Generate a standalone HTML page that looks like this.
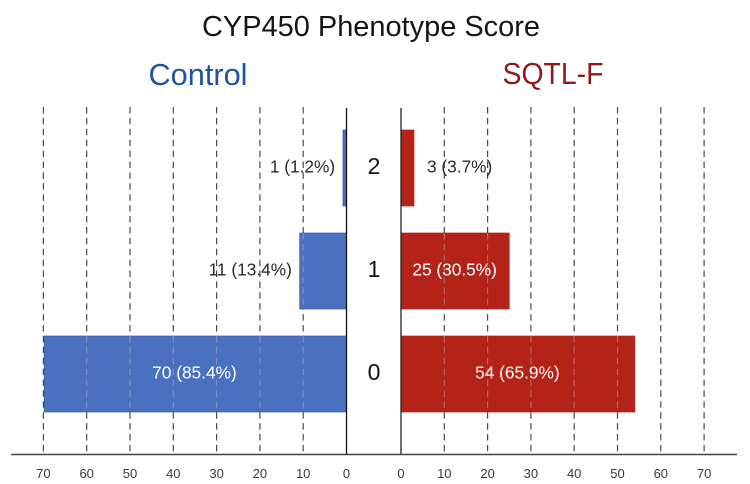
<!DOCTYPE html>
<html lang="en">
<head>
<meta charset="utf-8">
<title>CYP450 Phenotype Score</title>
<style>
html,body{margin:0;padding:0;background:#fff;width:750px;height:484px;overflow:hidden}
svg{display:block;font-family:"Liberation Sans",sans-serif}
</style>
</head>
<body>
<svg id="chart" width="750" height="484" viewBox="0 0 750 484" xmlns="http://www.w3.org/2000/svg">
  <rect width="750" height="484" fill="#fff"/>
  <text x="371" y="36" font-size="29" fill="#151515" text-anchor="middle" textLength="338" lengthAdjust="spacingAndGlyphs">CYP450 Phenotype Score</text>
  <text x="198" y="85" font-size="31" fill="#1f539b" text-anchor="middle" textLength="99" lengthAdjust="spacingAndGlyphs">Control</text>
  <text x="553" y="84" font-size="31" fill="#8e1a1c" text-anchor="middle" textLength="101" lengthAdjust="spacingAndGlyphs">SQTL-F</text>
</svg>
<script>
const categories = ['0', '1', '2'];
const controlValues = [70, 11, 1];
const sqtlValues = [54, 25, 3];
const controlLabels = ['70 (85.4%)', '11 (13.4%)', '1 (1.2%)'];
const sqtlLabels = ['54 (65.9%)', '25 (30.5%)', '3 (3.7%)'];
const tickValues = [0, 10, 20, 30, 40, 50, 60, 70];

const svg = document.getElementById('chart');
const NS = 'http://www.w3.org/2000/svg';
const UNIT = 4.33;
const LEFT_ZERO = 346.5;
const RIGHT_ZERO = 401;
const xLeft = v => LEFT_ZERO - v * UNIT;
const xRight = v => RIGHT_ZERO + v * UNIT;
const yTop = i => 336 - i * 103;
const BAR_H = 76;
const GRID_TOP = 107;
const GRID_BOTTOM = 452;
const BASE_Y = 454.5;

function make(tag, attrs, text) {
  const el = document.createElementNS(NS, tag);
  for (const k in attrs) el.setAttribute(k, attrs[k]);
  if (text !== undefined) el.textContent = text;
  svg.appendChild(el);
  return el;
}

function drawGrid(xf, side) {
  tickValues.forEach(t => {
    if (t === 0) return;
    const el = make('line', {x1: xf(t), x2: xf(t), y1: GRID_TOP, y2: GRID_BOTTOM, stroke: '#4a4a4a', 'stroke-width': 1.2, 'stroke-dasharray': '6.5 4.4'});
    
    
  });
}

function drawBars(values, xf, side, fill, edge, inset) {
  values.forEach((v, i) => {
    const x0 = Math.min(xf(0), xf(v)) + inset;
    const w = Math.abs(xf(v) - xf(0)) - inset;
    const el = make('rect', {x: x0, y: yTop(i), width: w, height: BAR_H, fill: fill, stroke: edge, 'stroke-width': 0.7});
    
    
    tickValues.forEach(t => {
      if (t === 0 || t >= v) return;
      const ov = make('line', {x1: xf(t), x2: xf(t), y1: yTop(i), y2: yTop(i) + BAR_H, stroke: '#b8b8b8', 'stroke-opacity': 0.45, 'stroke-width': 1.2, 'stroke-dasharray': '6.5 4.4'});
      
      
    });
  });
}

function drawValueLabels(values, labels, xf, side, isLeft) {
  values.forEach((v, i) => {
    const inside = v > 20;
    const x = inside ? (xf(0) + xf(v)) / 2 - 0.5 : xf(v) + (isLeft ? -7 : 13);
    const anchor = inside ? 'middle' : (isLeft ? 'end' : 'start');
    const el = make('text', {x: x, y: yTop(i) + 42.5, 'font-size': 17.3, fill: inside ? '#fff' : '#2a2a2a', 'text-anchor': anchor}, labels[i]);
    
    
  });
}

function drawTicks(xf, side) {
  tickValues.forEach(t => {
    const el = make('text', {x: xf(t), y: 478, 'font-size': 13, fill: '#3a3a3a', 'text-anchor': 'middle'}, t);
    
    
  });
}

drawGrid(xLeft, 'control');
drawGrid(xRight, 'sqtl-f');
drawBars(controlValues, xLeft, 'control', '#4a70c0', '#3a5a9e', 0.8);
drawBars(sqtlValues, xRight, 'sqtl-f', '#b32317', '#b32317', 0);

const axisLeft = make('line', {x1: LEFT_ZERO, x2: LEFT_ZERO, y1: 108, y2: BASE_Y, stroke: '#111', 'stroke-width': 1.3});


const axisRight = make('line', {x1: RIGHT_ZERO, x2: RIGHT_ZERO, y1: 108, y2: BASE_Y, stroke: '#222', 'stroke-width': 1.3});


const baseline = make('line', {x1: 11, x2: 737, y1: BASE_Y, y2: BASE_Y, stroke: '#444', 'stroke-width': 1.4});



drawValueLabels(controlValues, controlLabels, xLeft, 'control', true);
drawValueLabels(sqtlValues, sqtlLabels, xRight, 'sqtl-f', false);
drawTicks(xLeft, 'control');
drawTicks(xRight, 'sqtl-f');

categories.forEach((c, i) => {
  const el = make('text', {x: 374, y: yTop(i) + 44, 'font-size': 23, fill: '#111', 'text-anchor': 'middle'}, c);
  
  
});
</script>
</body>
</html>
